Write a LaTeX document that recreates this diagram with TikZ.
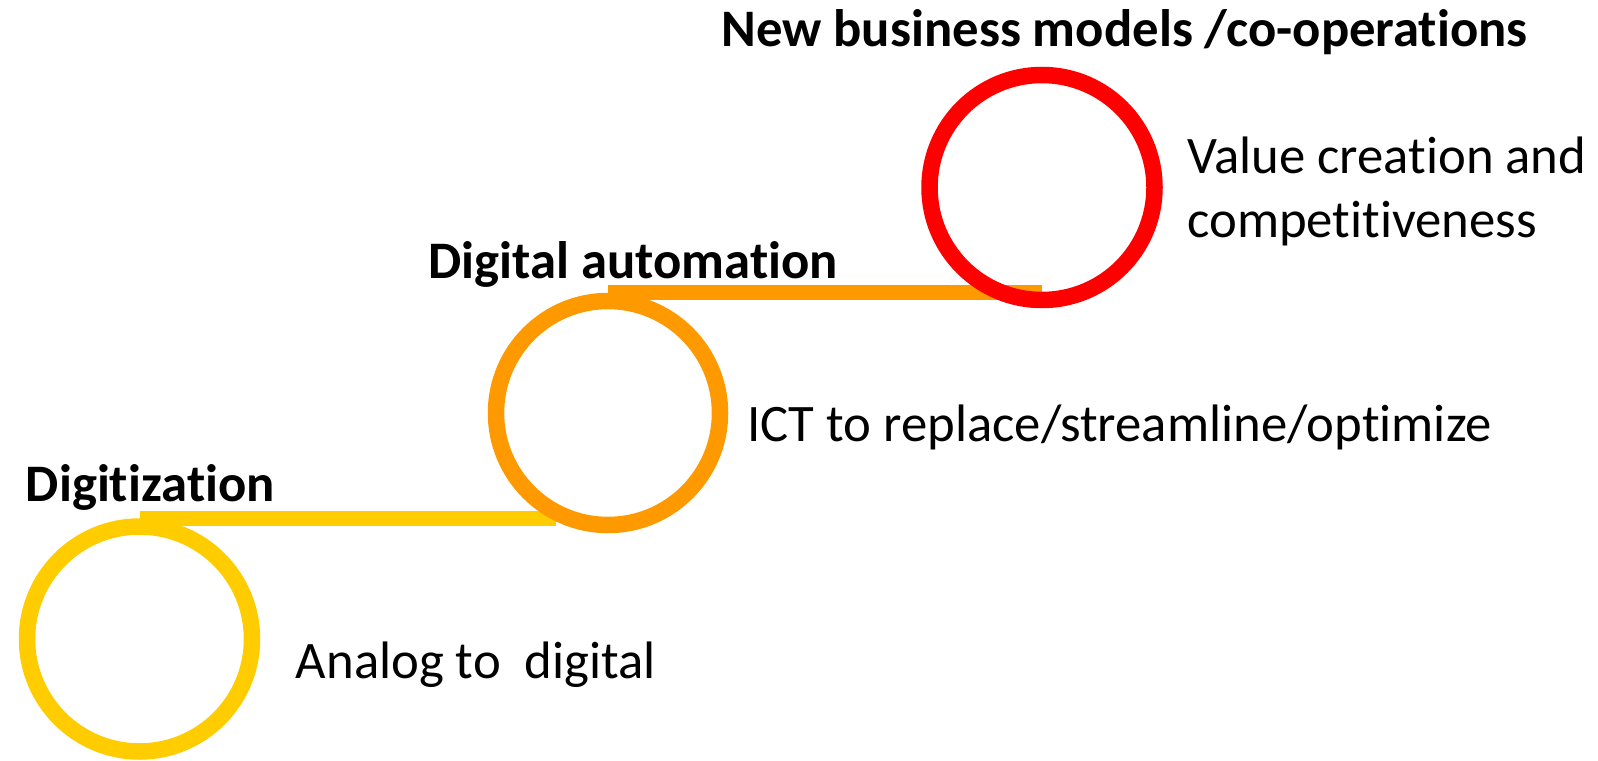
\documentclass[tikz,border=0pt]{standalone}
\usepackage{fontspec}
\setmainfont{Carlito}[Ligatures=NoCommon]
\usepackage{tikz}
\usetikzlibrary{calc}
% keep t and i apart (no ti ligature)
\XeTeXinterchartokenstate=1
\newXeTeXintercharclass\tclass
\newXeTeXintercharclass\iclass
\XeTeXcharclass`t=\tclass
\XeTeXcharclass`i=\iclass
\XeTeXinterchartoks\tclass\iclass={\kern0pt }
\definecolor{stepyellow}{HTML}{FFCC00}
\definecolor{steporange}{HTML}{FF9900}
\definecolor{stepred}{HTML}{FF0000}
\newcommand{\labelsize}{\fontsize{30}{36}\selectfont}
\tikzstyle{ring} = [circle, minimum size=4.5cm, line width=0.33cm, inner sep=0pt]
\tikzstyle{bar} = [line width=0.3cm]
\tikzstyle{stage} = [anchor=base west, inner sep=0pt, font=\labelsize\bfseries]
\tikzstyle{note} = [anchor=base west, inner sep=0pt, font=\labelsize, align=left]

\begin{document}
\begin{tikzpicture}
    \useasboundingbox (0,0) rectangle (31.96,15.2);
    \node (dig) [ring] at (2.79,2.42) {};
    \node (auto) [ring] at (12.16,6.94) {};
    \node (biz) [ring] at (20.84,11.45) {};
    \draw [bar, stepyellow] (dig.north) -- ([xshift=-1.04cm]dig.north -| auto.south);
    \draw [bar, steporange] (auto.north) -- (auto.north -| biz.south);
    \draw [ring, stepyellow] (dig) circle (2.25);
    \draw [ring, steporange] (auto) circle (2.24);
    \draw [ring, stepred] (biz) circle (2.25);
    \node (digname) [stage] at (0.51,5.18) {Digitization};
    \node (autoname) [stage] at (8.56,9.64) {Digital automation};
    \node (bizname) [stage] at (14.42,14.26) {New business models /co-operations};
    \node (dignote) [note] at (5.91,1.64) {Analog to\ \ digital};
    \node (autonote) [note] at (14.94,6.38) {ICT to replace/streamline/optimize};
    \node (biznote) [note] at (23.74,10.46) {Value creation and\\competitiveness};
\end{tikzpicture}
\end{document}
